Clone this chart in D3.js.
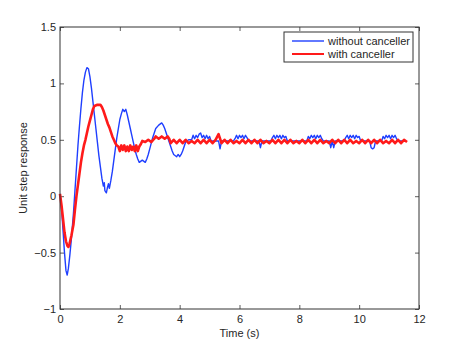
<!DOCTYPE html>
<html lang="en">
<head>
<meta charset="utf-8">
<title>Unit step response</title>
<script src="https://cdn.jsdelivr.net/npm/d3@7"></script>
<style>
  body { margin: 0; background: #fff; }
  svg { font-family: "Liberation Sans", Arial, sans-serif; }
  .tick text { font-size: 11px; fill: #262626; }
  .lbl { font-size: 11px; fill: #262626; }
</style>
</head>
<body>
<script>
// --- data ---
var xTicks = [0, 2, 4, 6, 8, 10, 12];
var yTicks = [-1, -0.5, 0, 0.5, 1, 1.5];
var seriesNames = ["without canceller", "with canceller"];

// blue: transient part as [t, value]
var blueTransient = [
  [0.00, 0.02], [0.05, -0.10], [0.10, -0.30], [0.15, -0.50], [0.20, -0.66], [0.24, -0.70],
  [0.28, -0.64], [0.33, -0.52], [0.38, -0.38], [0.45, -0.15], [0.50, 0.05], [0.55, 0.25],
  [0.60, 0.45], [0.65, 0.62], [0.70, 0.78], [0.75, 0.92], [0.80, 1.03], [0.85, 1.10],
  [0.90, 1.14], [0.95, 1.13], [1.00, 1.06], [1.05, 0.96], [1.10, 0.84], [1.15, 0.72],
  [1.20, 0.60], [1.25, 0.48], [1.30, 0.36], [1.35, 0.26], [1.40, 0.16], [1.45, 0.09],
  [1.48, 0.12], [1.50, 0.05], [1.55, 0.03], [1.58, 0.07], [1.62, 0.11], [1.65, 0.07],
  [1.70, 0.14], [1.75, 0.22], [1.80, 0.32], [1.85, 0.42], [1.90, 0.52], [1.95, 0.60],
  [2.00, 0.68], [2.05, 0.73], [2.10, 0.77], [2.15, 0.75], [2.20, 0.77], [2.25, 0.72],
  [2.30, 0.66], [2.35, 0.60], [2.40, 0.54], [2.45, 0.48], [2.50, 0.42], [2.55, 0.37],
  [2.60, 0.33], [2.65, 0.30], [2.75, 0.32], [2.85, 0.30], [2.90, 0.33], [2.95, 0.37],
  [3.00, 0.42], [3.05, 0.47], [3.10, 0.52], [3.15, 0.56], [3.20, 0.60], [3.30, 0.63],
  [3.40, 0.65], [3.45, 0.63], [3.50, 0.60], [3.55, 0.56], [3.60, 0.52], [3.65, 0.48],
  [3.70, 0.44], [3.75, 0.40], [3.80, 0.37], [3.90, 0.35], [3.95, 0.37], [4.00, 0.35],
  [4.05, 0.37], [4.10, 0.40], [4.15, 0.44], [4.20, 0.48], [4.30, 0.50]
];
// blue: settled part, one value every 0.05 s from 4.4 s
var blueSteadyStart = 4.4, blueSteadyStep = 0.05;
var blueSteady = [
  0.50, 0.54, 0.51, 0.54, 0.52, 0.55, 0.56, 0.52, 0.54, 0.51, 0.54, 0.51, 0.53,
  0.49, 0.49, 0.49, 0.49, 0.49, 0.49,
  0.42, 0.49,
  0.49, 0.49, 0.49, 0.49, 0.49, 0.49, 0.49, 0.49,
  0.51, 0.54, 0.51, 0.54, 0.52, 0.54, 0.51, 0.54, 0.52,
  0.49, 0.49, 0.49, 0.49, 0.49, 0.49, 0.49, 0.49,
  0.43, 0.49,
  0.49, 0.49, 0.49, 0.49, 0.49, 0.49,
  0.52, 0.54, 0.51, 0.54, 0.52, 0.54, 0.51, 0.54, 0.52, 0.53,
  0.49, 0.49, 0.49, 0.49, 0.49, 0.49, 0.49, 0.49, 0.49, 0.49, 0.49, 0.49, 0.49, 0.49,
  0.53, 0.51, 0.54, 0.52, 0.54, 0.51, 0.54, 0.52, 0.54, 0.51,
  0.49, 0.49, 0.49, 0.49, 0.49,
  0.43, 0.49, 0.43, 0.49,
  0.49, 0.49, 0.49, 0.49, 0.49, 0.49,
  0.52, 0.54, 0.51, 0.54, 0.52, 0.54, 0.51, 0.54, 0.52, 0.53,
  0.49, 0.49, 0.49, 0.49, 0.49, 0.49, 0.49,
  0.43, 0.42, 0.43, 0.49,
  0.49, 0.49, 0.49, 0.49,
  0.53, 0.51, 0.54, 0.52, 0.54, 0.51, 0.54, 0.52, 0.54, 0.51,
  0.49, 0.49, 0.49, 0.49, 0.49
];

// red: transient part as [t, value]
var redTransient = [
  [0.00, 0.02], [0.05, -0.08], [0.10, -0.20], [0.15, -0.32], [0.20, -0.40], [0.25, -0.44],
  [0.28, -0.45], [0.32, -0.42], [0.38, -0.35], [0.45, -0.25], [0.50, -0.12], [0.55, 0.00],
  [0.60, 0.10], [0.65, 0.20], [0.70, 0.30], [0.75, 0.38], [0.80, 0.45], [0.85, 0.50],
  [0.90, 0.56], [0.95, 0.62], [1.00, 0.67], [1.05, 0.72], [1.10, 0.77], [1.15, 0.80],
  [1.25, 0.81], [1.35, 0.81], [1.40, 0.79], [1.45, 0.76], [1.50, 0.72], [1.55, 0.68],
  [1.60, 0.64], [1.65, 0.61], [1.70, 0.57], [1.75, 0.53], [1.80, 0.50], [1.85, 0.47],
  [1.90, 0.45], [1.95, 0.44], [2.00, 0.40], [2.05, 0.45], [2.10, 0.41], [2.15, 0.45],
  [2.20, 0.40], [2.25, 0.44], [2.30, 0.40], [2.35, 0.45], [2.40, 0.41], [2.45, 0.44],
  [2.50, 0.40], [2.55, 0.45], [2.60, 0.40], [2.65, 0.44], [2.70, 0.46], [2.75, 0.49],
  [2.85, 0.48], [2.95, 0.50], [3.05, 0.48], [3.15, 0.51], [3.20, 0.53], [3.30, 0.51],
  [3.40, 0.53], [3.50, 0.51], [3.60, 0.53], [3.65, 0.51]
];
// red: settled part, one value every 0.1 s from 3.7 s
var redSteadyStart = 3.7, redSteadyStep = 0.1;
var redSteady = [
  0.47, 0.50, 0.47, 0.50, 0.47, 0.50, 0.47, 0.49, 0.47, 0.50,
  0.47, 0.50, 0.47, 0.50, 0.47, 0.50, 0.55, 0.47, 0.50, 0.47,
  0.50, 0.47, 0.49, 0.47, 0.50, 0.47, 0.50, 0.47, 0.50, 0.47,
  0.50, 0.47, 0.49, 0.47, 0.50, 0.47, 0.50, 0.47, 0.50, 0.47,
  0.50, 0.47, 0.49, 0.47, 0.50, 0.47, 0.50, 0.47, 0.50, 0.47,
  0.50, 0.47, 0.49, 0.47, 0.50, 0.47, 0.50, 0.47, 0.50, 0.47,
  0.50, 0.47, 0.49, 0.47, 0.50, 0.47, 0.50, 0.47, 0.50, 0.47,
  0.50, 0.47, 0.49, 0.47, 0.50, 0.47, 0.50, 0.47, 0.50, 0.48
];

// --- build point lists ---
function steadyPoints(start, step, vals) {
  return vals.map(function(v, i) { return [Math.round((start + i * step) * 100) / 100, v]; });
}
var bluePts = blueTransient.concat(steadyPoints(blueSteadyStart, blueSteadyStep, blueSteady));
var redPts = redTransient.concat(steadyPoints(redSteadyStart, redSteadyStep, redSteady));

// --- layout ---
var W = 463, H = 348;
var margin = {top: 27, right: 44, bottom: 39, left: 60};
var width = W - margin.left - margin.right;
var height = H - margin.top - margin.bottom;

var svg = d3.select("body").append("svg")
  .attr("width", W)
  .attr("height", H);

svg.append("rect").attr("width", W).attr("height", H).attr("fill", "#fff");

var g = svg.append("g")
  .attr("transform", "translate(" + margin.left + "," + margin.top + ")");

var x = d3.scaleLinear().domain([0, 12]).range([0, width]);
var y = d3.scaleLinear().domain([-1, 1.5]).range([height, 0]);

var fmt = function(d) { return d3.format("")(d).replace("-", "\u2212"); };

// axes with inward ticks (MATLAB look)
var tickLen = 4;
g.append("g")
  .attr("transform", "translate(0," + height + ")")
  .call(d3.axisBottom(x).tickValues(xTicks).tickSizeInner(-tickLen).tickSizeOuter(0).tickPadding(6).tickFormat(fmt))
  .call(function(s) { s.select(".domain").remove(); });
g.append("g")
  .call(d3.axisTop(x).tickValues(xTicks).tickSizeInner(-tickLen).tickSizeOuter(0).tickFormat(""))
  .call(function(s) { s.select(".domain").remove(); });
g.append("g")
  .call(d3.axisLeft(y).tickValues(yTicks).tickSizeInner(-tickLen).tickSizeOuter(0).tickPadding(4).tickFormat(fmt))
  .call(function(s) { s.select(".domain").remove(); });
g.append("g")
  .attr("transform", "translate(" + width + ",0)")
  .call(d3.axisRight(y).tickValues(yTicks).tickSizeInner(-tickLen).tickSizeOuter(0).tickFormat(""))
  .call(function(s) { s.select(".domain").remove(); });

g.selectAll(".tick line").attr("stroke", "#333").attr("stroke-width", 0.8);

// lines
var line = d3.line()
  .x(function(d) { return x(d[0]); })
  .y(function(d) { return y(d[1]); });

g.append("path")
  .datum(bluePts)
  .attr("d", line)
  .attr("fill", "none")
  .attr("stroke", "#1f3fff")
  .attr("stroke-width", 1.4)
  .attr("stroke-linejoin", "round");

g.append("path")
  .datum(redPts)
  .attr("d", line)
  .attr("fill", "none")
  .attr("stroke", "#ff1a1a")
  .attr("stroke-width", 2.6)
  .attr("stroke-linejoin", "round");

// frame
g.append("rect")
  .attr("width", width)
  .attr("height", height)
  .attr("fill", "none")
  .attr("stroke", "#333")
  .attr("stroke-width", 1);

// axis labels
g.append("text")
  .attr("class", "lbl")
  .attr("x", width / 2)
  .attr("y", height + 28)
  .attr("text-anchor", "middle")
  .text("Time (s)");

g.append("text")
  .attr("class", "lbl")
  .attr("transform", "translate(" + (-33) + "," + (height / 2) + ") rotate(-90)")
  .attr("text-anchor", "middle")
  .text("Unit step response");

// legend
var legend = g.append("g").attr("transform", "translate(" + (width - 135) + ",5)");
legend.append("rect")
  .attr("width", 129)
  .attr("height", 30)
  .attr("fill", "#fff")
  .attr("stroke", "#333")
  .attr("stroke-width", 1);
var colors = ["#1f3fff", "#ff1a1a"];
seriesNames.forEach(function(name, i) {
  var row = legend.append("g").attr("transform", "translate(0," + (9 + i * 13) + ")");
  row.append("line")
    .attr("x1", 8).attr("x2", 40)
    .attr("stroke", colors[i])
    .attr("stroke-width", i === 0 ? 1.4 : 2);
  row.append("text")
    .attr("class", "lbl")
    .attr("x", 44)
    .attr("dy", "0.35em")
    .text(name);
});
</script>
</body>
</html>
